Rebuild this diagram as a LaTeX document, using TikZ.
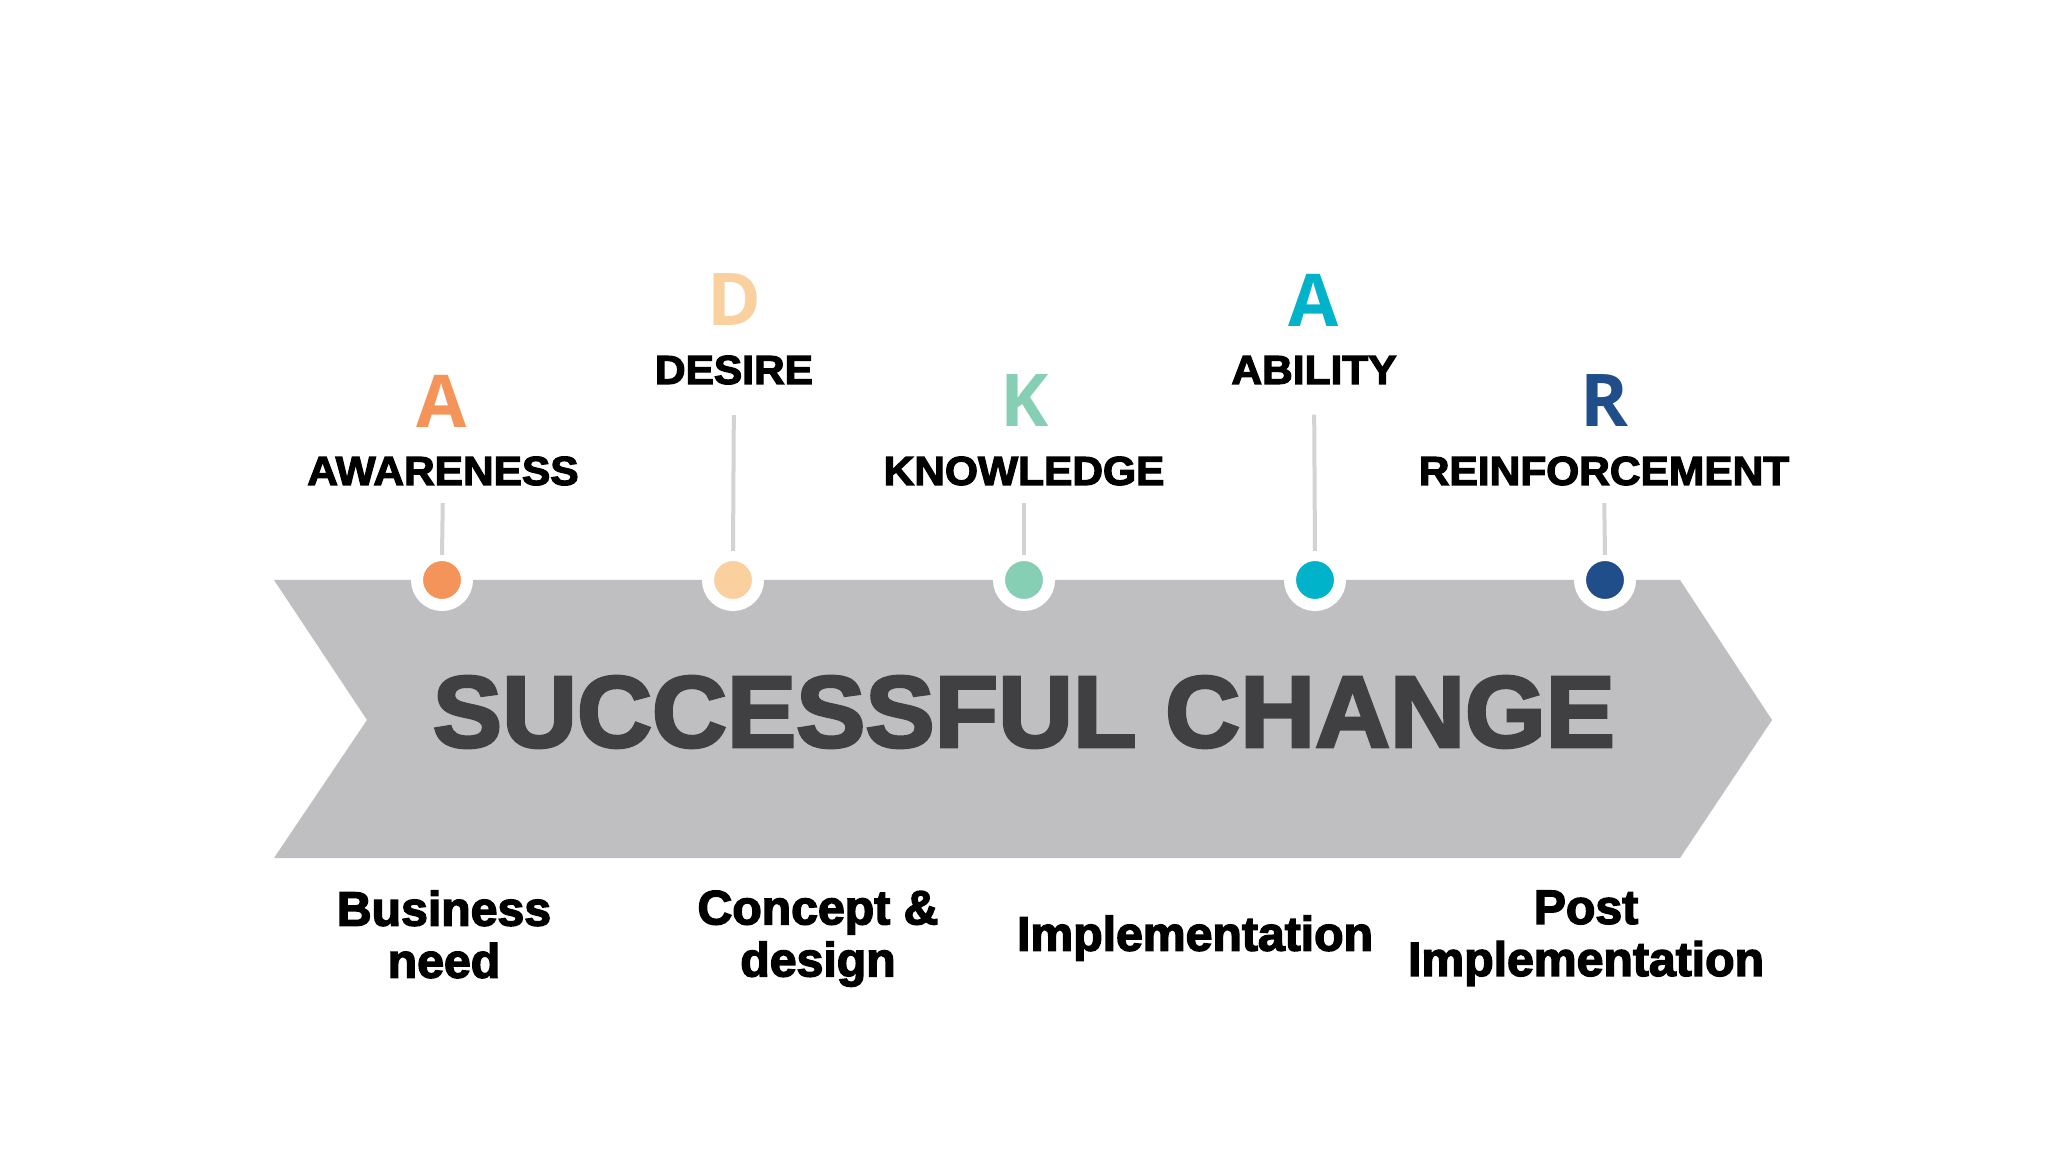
\documentclass[tikz,border=0pt]{standalone}
\usepackage{fontspec}
\newfontfamily\heavy{Liberation Sans}[BoldFeatures={FakeBold=3,FakeStretch=1.025}]
\newfontfamily\heavyphase{Liberation Sans}[BoldFeatures={FakeBold=3}]
\newfontfamily\heavylab{Liberation Sans}[BoldFeatures={FakeBold=3,FakeStretch=1.05}]
\newfontfamily\letterfont{Open Sans}
\definecolor{arrowgray}{HTML}{BFBEC1}
\definecolor{titlegray}{HTML}{404043}
\definecolor{stemgray}{HTML}{D3D3D6}
\definecolor{cA}{HTML}{F4935A}
\definecolor{cD}{HTML}{FAD09F}
\definecolor{cK}{HTML}{86CFB5}
\definecolor{cB}{HTML}{00B2CA}
\definecolor{cR}{HTML}{1F4E8A}
\tikzset{
  letter/.style={inner sep=0pt, font=\letterfont\bfseries\fontsize{20.7}{24}\selectfont},
  stagelabel/.style={inner sep=0pt, font=\heavylab\bfseries\fontsize{11.5}{13}\selectfont, text=black},
  phase/.style={inner sep=0pt, anchor=north, align=center, font=\heavyphase\bfseries\fontsize{13.7}{14.8}\selectfont, text=black},
  dot/.style={circle, fill=#1, draw=white, line width=0.12cm, minimum size=0.5cm, inner sep=0pt, outer sep=0pt},
  stem/.style={draw=stemgray, line width=0.04cm}
}
\begin{document}
\begin{tikzpicture}[x=0.01cm,y=-0.01cm]
\fill[white] (0,0) rectangle (2048,1152);
\path[use as bounding box] (0,0) rectangle (2048,1152);
% arrow band
\fill[arrowgray] (274,580) -- (1680,580) -- (1772,720) -- (1680,858) -- (274,858) -- (367,720) -- cycle;
\node[inner sep=0pt, text=titlegray, font=\heavy\bfseries\fontsize{28.8}{32}\selectfont] (title) at (1024,712) {SUCCESSFUL CHANGE};
% letters
\node[letter, text=cA] (L1) at (442,401) {A};
\node[letter, text=cD] (L2) at (734,300) {D};
\node[letter, text=cK] (L3) at (1025,401) {K};
\node[letter, text=cB] (L4) at (1314,300) {A};
\node[letter, text=cR] (L5) at (1605,401) {R};
% stage labels
\node[stagelabel] (S1) at (443,471) {AWARENESS};
\node[stagelabel] (S2) at (734,370) {DESIRE};
\node[stagelabel] (S3) at (1024,471) {KNOWLEDGE};
\node[stagelabel] (S4) at (1314,370) {ABILITY};
\node[stagelabel] (S5) at (1604,471) {REINFORCEMENT};
% dots
\node[dot=cA] (D1) at (442,580) {};
\node[dot=cD] (D2) at (733,580) {};
\node[dot=cK] (D3) at (1024,580) {};
\node[dot=cB] (D4) at (1315,580) {};
\node[dot=cR] (D5) at (1605,580) {};
% stems
\draw[stem, shorten <=0.17cm] (S1.south) -- (D1.north);
\draw[stem, shorten <=0.30cm, shorten >=0.04cm] (S2.south) -- (D2.north);
\draw[stem, shorten <=0.17cm] (S3.south) -- (D3.north);
\draw[stem, shorten <=0.30cm, shorten >=0.04cm] (S4.south) -- (D4.north);
\draw[stem, shorten <=0.17cm] (S5.south) -- (D5.north);
% phases
\node[phase] (P1) at (444,890) {Business\\need};
\node[phase] (P2) at (818,890) {Concept \&\\design};
\node[phase] (P3) at (1195,915) {Implementation};
\node[phase] (P4) at (1586,890) {Post\\Implementation};
\end{tikzpicture}
\end{document}
